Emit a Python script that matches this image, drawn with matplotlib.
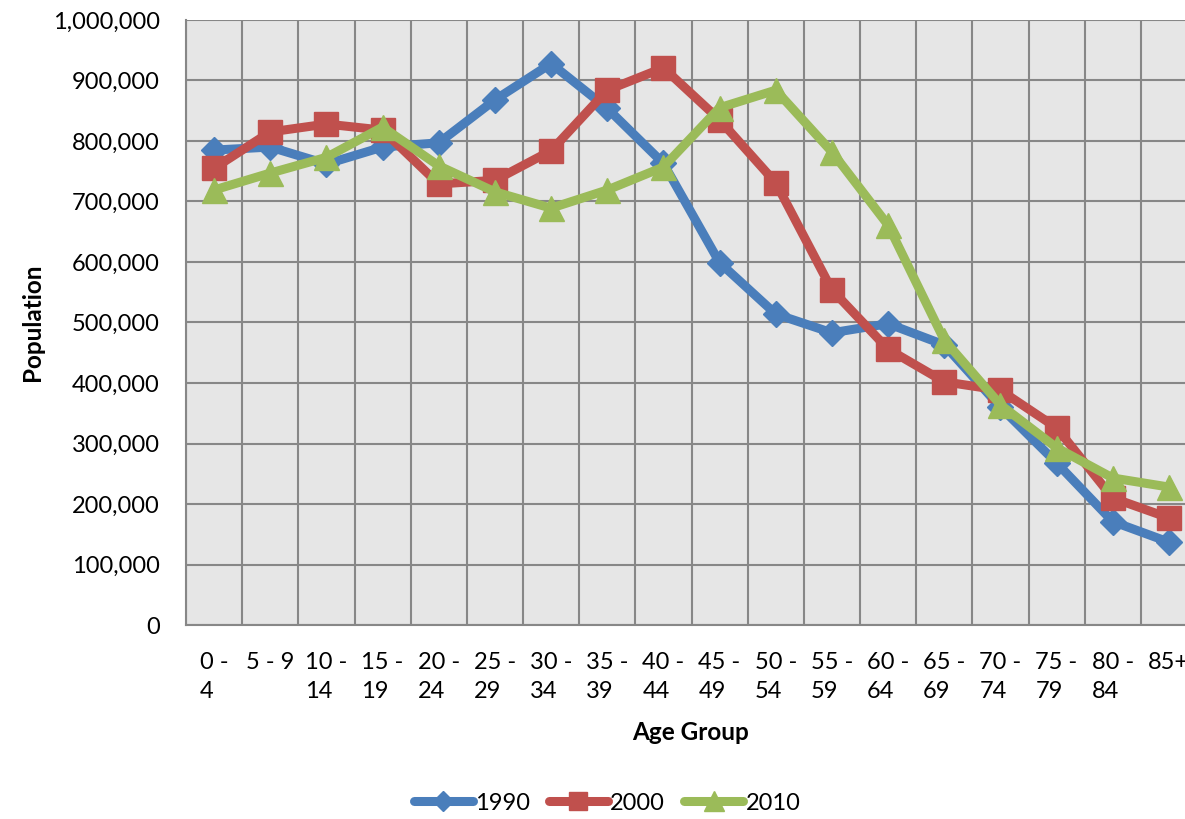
import matplotlib
matplotlib.use("Agg")
import matplotlib.pyplot as plt
import matplotlib.transforms as mtransforms
from matplotlib.ticker import FuncFormatter, MultipleLocator

age_groups = ["0 -\n4", "5 - 9", "10 -\n14", "15 -\n19", "20 -\n24", "25 -\n29", "30 -\n34",
              "35 -\n39", "40 -\n44", "45 -\n49", "50 -\n54", "55 -\n59", "60 -\n64", "65 -\n69",
              "70 -\n74", "75 -\n79", "80 -\n84", "85+"]
pop_1990 = [785000, 790000, 762000, 790000, 797000, 868000, 928000, 854000, 763000, 599000,
            514000, 483000, 498000, 463000, 360000, 268000, 171000, 137000]
pop_2000 = [755000, 815000, 828000, 818000, 729000, 735000, 784000, 884000, 921000, 835000,
            731000, 554000, 456000, 402000, 388000, 326000, 210000, 177000]
pop_2010 = [719000, 747000, 773000, 823000, 759000, 716000, 689000, 719000, 757000, 855000,
            884000, 782000, 661000, 471000, 364000, 293000, 243000, 228000]
series_names = ["1990", "2000", "2010"]
colors = ["#4A7EBB", "#C0504D", "#9BBB59"]
markers = ["D", "s", "^"]
msizes = [13, 17, 18]

plt.rcParams['font.family'] = ['Lato', 'DejaVu Sans']

W, H = 1185, 819
fig = plt.figure(figsize=(W / 100, H / 100), dpi=100)
left, right, top, bottom = 186, 1197, 20, 625
ax = fig.add_axes([left / W, (H - bottom) / H, (right - left) / W, (bottom - top) / H])
ax.set_facecolor("#E6E6E6")

x = list(range(len(age_groups)))
for vals, name, c, m, ms in zip([pop_1990, pop_2000, pop_2010], series_names, colors, markers, msizes):
    ax.plot(x, vals, color=c, lw=6.5, marker=m, markersize=ms, markerfacecolor=c,
            markeredgecolor=c, label=name, solid_capstyle="round", solid_joinstyle="round",
            clip_on=False, zorder=3)

ax.set_xlim(-0.5, len(age_groups) - 0.5)
ax.set_ylim(0, 1000000)
ax.yaxis.set_major_locator(MultipleLocator(100000))
ax.yaxis.set_major_formatter(FuncFormatter(lambda v, p: f"{int(v):,}"))
ax.set_xticks(x)
ax.set_xticks([i - 0.5 for i in range(len(age_groups) + 1)], minor=True)
ax.set_xticklabels([""] * len(age_groups))
ax.tick_params(axis="x", which="both", length=0)
ax.tick_params(axis="y", length=0, pad=19, labelsize=17)
ax.grid(True, axis="y", which="major", color="#878787", lw=1.5, zorder=0)
ax.grid(True, axis="x", which="minor", color="#878787", lw=1.5, zorder=0)
ax.grid(False, axis="x", which="major")
ax.set_axisbelow(True)
for s in ["top", "right"]:
    ax.spines[s].set_visible(False)
for s in ["left", "bottom"]:
    ax.spines[s].set_color("#878787")
    ax.spines[s].set_linewidth(1.5)

# category labels below the axis (wrapped like the original)
trans = ax.get_xaxis_transform() + mtransforms.ScaledTranslation(0, -27 / 100, fig.dpi_scale_trans)
for i, lab in enumerate(age_groups):
    ax.text(i, 0, lab, transform=trans, ha="center", va="top", fontsize=17,
            multialignment="left", linespacing=1.45)

fig.text(32 / W, 1 - 322 / H, "Population", rotation=90, ha="center", va="center",
         fontsize=17.5, fontweight="bold")
fig.text(691 / W, 1 - 733 / H, "Age Group", ha="center", va="center",
         fontsize=17.5, fontweight="bold")

handles, labels = ax.get_legend_handles_labels()
leg = fig.legend(handles, labels, loc="center", bbox_to_anchor=(607 / W, 1 - 803 / H), ncol=3,
                 frameon=False, fontsize=17, handlelength=2.5, handletextpad=0.1,
                 columnspacing=0.8, markerscale=0.8)

fig.savefig("out.png", dpi=100)
